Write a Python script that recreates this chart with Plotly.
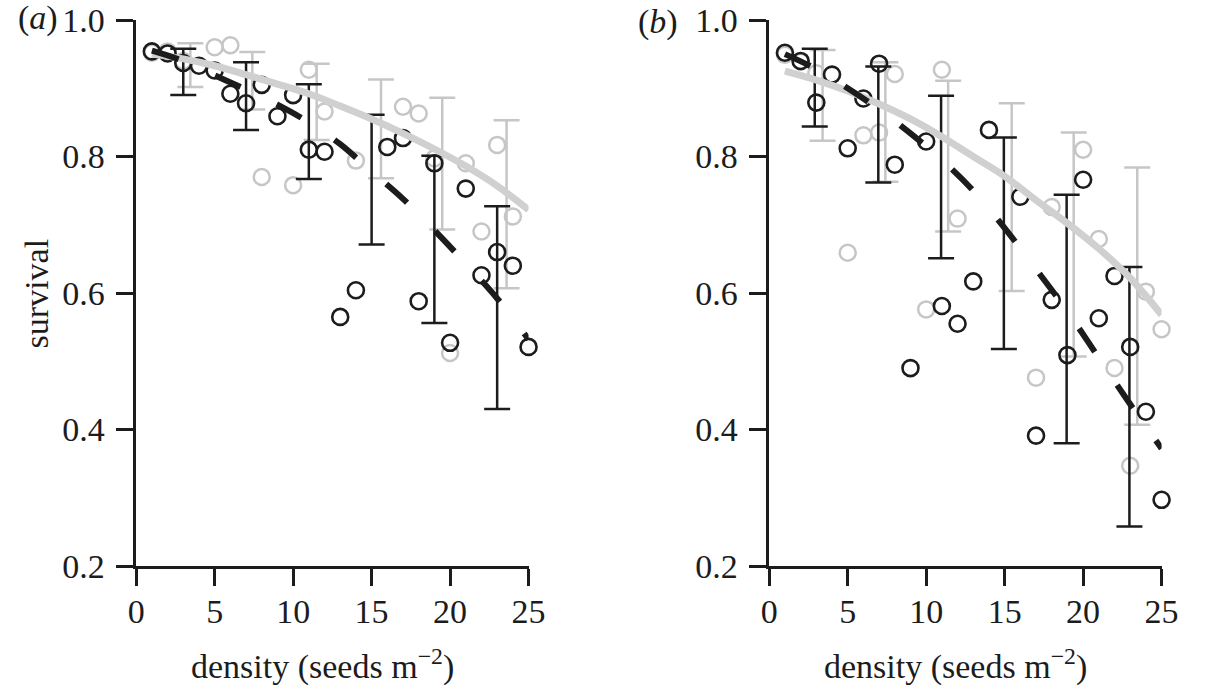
import plotly.graph_objects as go

# ---------------- data: panel (a) ----------------
a_black_x = [1, 2, 3, 4, 5, 6, 7, 8, 9, 10, 11, 12, 13, 14, 16, 17, 18, 19, 20, 21, 22, 23, 24, 25]
a_black_y = [0.954, 0.951, 0.937, 0.933, 0.926, 0.892, 0.878, 0.905, 0.859, 0.890, 0.810, 0.807,
             0.565, 0.604, 0.814, 0.827, 0.588, 0.790, 0.527, 0.753, 0.626, 0.660, 0.640, 0.521]
a_grey_x = [1, 2, 3, 5, 6, 8, 10, 11, 12, 14, 17, 18, 19, 20, 21, 22, 23, 24, 25.2]
a_grey_y = [0.952, 0.954, 0.940, 0.960, 0.963, 0.770, 0.758, 0.927, 0.866, 0.794, 0.873, 0.863,
            0.797, 0.512, 0.790, 0.690, 0.817, 0.712, 0.742]
a_black_bar_x = [3, 7, 11, 15, 19, 23]
a_black_bar_lo = [0.890, 0.839, 0.767, 0.671, 0.556, 0.430]
a_black_bar_hi = [0.958, 0.938, 0.906, 0.861, 0.801, 0.727]
a_grey_bar_x = [3.45, 7.4, 11.5, 15.6, 19.5, 23.6]
a_grey_bar_lo = [0.902, 0.869, 0.824, 0.768, 0.693, 0.607]
a_grey_bar_hi = [0.966, 0.953, 0.936, 0.913, 0.886, 0.853]

fit_x = [1, 3, 5, 7, 9, 11, 13, 15, 17, 19, 21, 23, 25]
a_grey_fit = [0.950, 0.943, 0.933, 0.920, 0.906, 0.892, 0.874, 0.855, 0.834, 0.811, 0.786, 0.757, 0.722]
a_black_fit = [0.955, 0.940, 0.919, 0.898, 0.876, 0.850, 0.818, 0.778, 0.738, 0.692, 0.643, 0.592, 0.532]

# ---------------- data: panel (b) ----------------
b_black_x = [1, 2, 3, 4, 5, 6, 7, 8, 9, 10, 11, 12, 13, 14, 16, 17, 18, 19, 20, 21, 22, 23, 24, 25]
b_black_y = [0.952, 0.940, 0.879, 0.920, 0.812, 0.885, 0.936, 0.788, 0.490, 0.822, 0.581, 0.555,
             0.617, 0.839, 0.741, 0.391, 0.590, 0.509, 0.766, 0.563, 0.625, 0.521, 0.426, 0.297]
b_grey_x = [1, 2, 3, 5, 6, 7, 8, 10, 11, 12, 17, 18, 20, 21, 22, 23, 24, 25]
b_grey_y = [0.949, 0.939, 0.922, 0.659, 0.831, 0.835, 0.921, 0.576, 0.927, 0.709, 0.476, 0.726,
            0.810, 0.679, 0.490, 0.347, 0.602, 0.547]
b_black_bar_x = [2.9, 6.95, 10.95, 14.95, 18.95, 22.95]
b_black_bar_lo = [0.844, 0.762, 0.651, 0.518, 0.380, 0.258]
b_black_bar_hi = [0.958, 0.932, 0.889, 0.828, 0.744, 0.638]
b_grey_bar_x = [3.4, 7.4, 11.4, 15.45, 19.4, 23.45]
b_grey_bar_lo = [0.823, 0.763, 0.690, 0.603, 0.507, 0.407]
b_grey_bar_hi = [0.956, 0.938, 0.911, 0.878, 0.835, 0.784]

b_grey_fit = [0.925, 0.912, 0.896, 0.877, 0.855, 0.829, 0.800, 0.771, 0.736, 0.702, 0.665, 0.622, 0.568]
b_black_fit = [0.950, 0.928, 0.900, 0.869, 0.834, 0.795, 0.750, 0.695, 0.635, 0.573, 0.505, 0.437, 0.372]

x_ticks = [0, 5, 10, 15, 20, 25]
y_ticks = [0.2, 0.4, 0.6, 0.8, 1.0]

BLACK = "#1c1c1c"
GREY = "#c6c6c6"
GREY_LINE = "#d0d0d0"
FONT = "Liberation Serif"
FS = 34

W, H = 1205, 689
MT, MB = 20, 123
PH = H - MT - MB
fig = go.Figure()


def add_panel(xa, ya, bx, by, gx, gy, bbx, bblo, bbhi, gbx, gblo, gbhi, gfit, bfit):
    fig.add_trace(go.Scatter(x=gx, y=gy, mode="markers", xaxis=xa, yaxis=ya, cliponaxis=False,
                             marker=dict(symbol="circle-open", size=16, color=GREY,
                                         line=dict(width=2.5, color=GREY))))
    gc = [(lo + hi) / 2 for lo, hi in zip(gblo, gbhi)]
    fig.add_trace(go.Scatter(x=gbx, y=gc, mode="markers", xaxis=xa, yaxis=ya, cliponaxis=False,
                             marker=dict(size=1, color="rgba(0,0,0,0)"),
                             error_y=dict(type="data", symmetric=False,
                                          array=[h - c for h, c in zip(gbhi, gc)],
                                          arrayminus=[c - l for l, c in zip(gblo, gc)],
                                          color=GREY, thickness=2.5, width=13)))
    fig.add_trace(go.Scatter(x=bx, y=by, mode="markers", xaxis=xa, yaxis=ya, cliponaxis=False,
                             marker=dict(symbol="circle-open", size=16, color=BLACK,
                                         line=dict(width=2.6, color=BLACK))))
    bc = [(lo + hi) / 2 for lo, hi in zip(bblo, bbhi)]
    fig.add_trace(go.Scatter(x=bbx, y=bc, mode="markers", xaxis=xa, yaxis=ya, cliponaxis=False,
                             marker=dict(size=1, color="rgba(0,0,0,0)"),
                             error_y=dict(type="data", symmetric=False,
                                          array=[h - c for h, c in zip(bbhi, bc)],
                                          arrayminus=[c - l for l, c in zip(bblo, bc)],
                                          color=BLACK, thickness=2.5, width=13)))
    fig.add_trace(go.Scatter(x=fit_x, y=gfit, mode="lines", xaxis=xa, yaxis=ya, cliponaxis=False,
                             line=dict(color=GREY_LINE, width=7, shape="spline")))
    fig.add_trace(go.Scatter(x=fit_x, y=bfit, mode="lines", xaxis=xa, yaxis=ya, cliponaxis=False,
                             line=dict(color=BLACK, width=6, dash="28px,40px", shape="spline")))


add_panel("x", "y", a_black_x, a_black_y, a_grey_x, a_grey_y,
          a_black_bar_x, a_black_bar_lo, a_black_bar_hi,
          a_grey_bar_x, a_grey_bar_lo, a_grey_bar_hi, a_grey_fit, a_black_fit)
add_panel("x2", "y2", b_black_x, b_black_y, b_grey_x, b_grey_y,
          b_black_bar_x, b_black_bar_lo, b_black_bar_hi,
          b_grey_bar_x, b_grey_bar_lo, b_grey_bar_hi, b_grey_fit, b_black_fit)

axis_common = dict(showline=True, linewidth=2.5, linecolor=BLACK, ticks="outside", ticklen=17,
                   tickwidth=2.5, tickcolor=BLACK, showgrid=False, zeroline=False,
                   tickfont=dict(family=FONT, size=FS, color=BLACK))

xa_dom = [130 / W, 531 / W]
xb_dom = [777 / W, 1178 / W]


def make_axes(x_standoff):
    return dict(
        xaxis=dict(domain=xa_dom, range=[0, 25], tickvals=x_ticks, anchor="y",
                   ticklabelstandoff=x_standoff, **axis_common),
        yaxis=dict(domain=[0, 1], range=[0.2, 1.0], tickvals=y_ticks, tickformat=".1f", anchor="x",
                   ticklabelstandoff=5, **axis_common),
        xaxis2=dict(domain=xb_dom, range=[0, 25], tickvals=x_ticks, anchor="y2",
                    ticklabelstandoff=x_standoff, **axis_common),
        yaxis2=dict(domain=[0, 1], range=[0.2, 1.0], tickvals=y_ticks, tickformat=".1f", anchor="x2",
                    ticklabelstandoff=5, **axis_common),
    )


fig.update_layout(width=W, height=H, autosize=False, showlegend=False,
                  paper_bgcolor="white", plot_bgcolor="white",
                  margin=dict(l=0, r=0, t=MT, b=MB))
try:
    fig.update_layout(**make_axes(-4))
except ValueError:
    fig.update_layout(**make_axes(0))


def py(pix):
    return (H - MB - pix) / PH


ann_font = dict(family=FONT, size=FS, color=BLACK)
annotations = [
    dict(text="density (seeds m<sup>\u22122</sup>)", x=320 / W, y=py(664),
         xref="paper", yref="paper", showarrow=False, font=ann_font, xanchor="center", yanchor="middle"),
    dict(text="density (seeds m<sup>\u22122</sup>)", x=967 / W, y=py(664),
         xref="paper", yref="paper", showarrow=False, font=ann_font, xanchor="center", yanchor="middle"),
    dict(text="survival", x=28 / W, y=py(293), textangle=-90,
         xref="paper", yref="paper", showarrow=False, font=ann_font, xanchor="center", yanchor="middle"),
    dict(text="(<i>a</i>)", x=30 / W, y=py(18),
         xref="paper", yref="paper", showarrow=False, font=ann_font, xanchor="center", yanchor="middle"),
    dict(text="(<i>b</i>)", x=663 / W, y=py(22),
         xref="paper", yref="paper", showarrow=False, font=ann_font, xanchor="center", yanchor="middle"),
]
fig.update_layout(annotations=annotations)

fig.write_html("out.html",
               config={"responsive": False, "displayModeBar": False},
               post_script="document.body.style.margin='0px';document.body.style.overflow='hidden';")
